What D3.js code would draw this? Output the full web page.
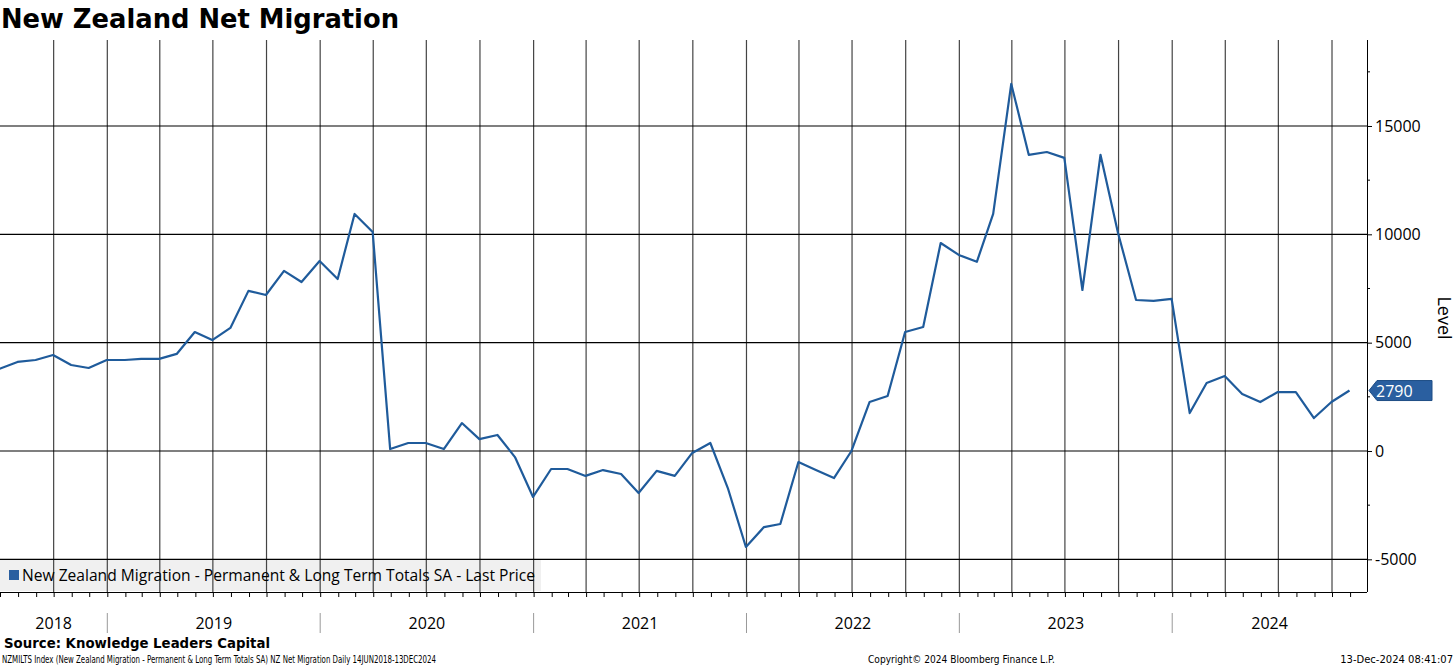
<!DOCTYPE html>
<html>
<head>
<meta charset="utf-8">
<script src="https://cdn.jsdelivr.net/npm/d3@7"></script>
<style>
  body { margin: 0; background: #fff; }
  svg { display: block; font-family: "Open Sans", "DejaVu Sans", sans-serif; }
</style>
</head>
<body>
<div id="chart"></div>
<script>
const WIDTH = 1456;
const HEIGHT = 666;
const PLOT_LEFT = 0;
const PLOT_RIGHT = 1367;
const PLOT_TOP = 40;
const PLOT_BOTTOM = 592;
const LINE_COLOR = "#1f5b9b";

// monthly, June 2018 .. October 2024
const START_YEAR = 2018;
const START_MONTH = 5; // June (0-based)
const values = [
  3790, 4110, 4200, 4430, 3970, 3830, 4200, 4200, 4250, 4250, 4480, 5490,
  5120, 5680, 7390, 7200, 8310, 7800, 8770, 7940, 10940, 10110, 90, 370,
  370, 90, 1290, 550, 740, -280, -2120, -830, -830, -1150, -880, -1060,
  -1940, -920, -1150, -90, 370, -1710, -4430, -3510, -3370, -510, -880, -1250,
  0, 2260, 2540, 5490, 5720, 9600, 9050, 8730, 10940, 16940, 13670, 13800,
  13530, 7430, 13670, 10070, 6970, 6930, 7020, 1750, 3140, 3460, 2630, 2260,
  2720, 2720, 1520, 2260, 2790
];
const yTicks = [-5000, 0, 5000, 10000, 15000];
const yMinorTicks = [-2500, 2500, 7500, 12500, 17500];
const yearLabels = ["2018", "2019", "2020", "2021", "2022", "2023", "2024"];

const TITLE = "New Zealand Net Migration";
const LEGEND_LABEL = "New Zealand Migration - Permanent & Long Term Totals SA - Last Price";
const SOURCE = "Source: Knowledge Leaders Capital";
const FOOT_LEFT = "NZMILTS Index (New Zealand Migration - Permanent & Long Term Totals SA) NZ Net Migration  Daily 14JUN2018-13DEC2024";
const FOOT_MID = "Copyright\u00a9 2024 Bloomberg Finance L.P.";
const FOOT_RIGHT = "13-Dec-2024 08:41:07";

const data = values.map((v, k) => ({
  date: new Date(Date.UTC(START_YEAR, START_MONTH + k + 1, 0)),
  value: v
}));

const x = d3.scaleUtc()
  .domain([new Date(Date.UTC(2018, 6, 1)), new Date(Date.UTC(2024, 10, 30))])
  .range([PLOT_LEFT, PLOT_RIGHT]);
const y = d3.scaleLinear()
  .domain([-6508, 18969])
  .range([PLOT_BOTTOM, PLOT_TOP]);

const svg = d3.select("#chart").append("svg")
  .attr("width", WIDTH)
  .attr("height", HEIGHT);

// title
svg.append("text")
  .attr("x", 1).attr("y", 28)
  .style("font-family", "'DejaVu Sans', sans-serif")
  .style("font-weight", "bold")
  .style("font-size", "27px")
  .attr("textLength", 398)
  .attr("lengthAdjust", "spacingAndGlyphs")
  .attr("fill", "#000")
  .text(TITLE);

// legend background (under grid)
svg.append("rect")
  .attr("x", 0).attr("y", 560)
  .attr("width", 541).attr("height", 31)
  .attr("fill", "#f0f0f0");

// vertical quarterly grid
const quarters = d3.utcMonth.every(3).range(x.domain()[0], x.domain()[1])
  .filter(d => x(d) > 2);
svg.append("g")
  .selectAll("line")
  .data(quarters)
  .join("line")
  .attr("x1", d => x(d)).attr("x2", d => x(d))
  .attr("y1", PLOT_TOP).attr("y2", PLOT_BOTTOM)
  .attr("stroke", "#444")
  .attr("stroke-width", 1.2);

// horizontal grid
svg.append("g")
  .selectAll("line")
  .data(yTicks)
  .join("line")
  .attr("x1", PLOT_LEFT).attr("x2", PLOT_RIGHT)
  .attr("y1", d => y(d)).attr("y2", d => y(d))
  .attr("stroke", "#000")
  .attr("stroke-width", 1.2);

// right axis
const yAxis = d3.axisRight(y)
  .tickValues(yTicks)
  .tickSize(5)
  .tickPadding(3)
  .tickFormat(d3.format("d"));
const yAxisG = svg.append("g")
  .attr("transform", `translate(${PLOT_RIGHT},0)`)
  .call(yAxis);
yAxisG.select(".domain").attr("d", `M0.5,${PLOT_TOP}V${PLOT_BOTTOM}`).attr("stroke", "#000");
yAxisG.selectAll("text")
  .style("font-family", "'Open Sans', sans-serif")
  .style("font-size", "16px")
  .attr("fill", "#000")
  .text(d => d < 0 ? "-" + Math.abs(d) : d);
svg.append("g")
  .attr("transform", `translate(${PLOT_RIGHT},0)`)
  .selectAll("line")
  .data(yMinorTicks)
  .join("line")
  .attr("x1", 0).attr("x2", 3)
  .attr("y1", d => y(d)).attr("y2", d => y(d))
  .attr("stroke", "#000");

svg.append("text")
  .attr("transform", `translate(1438,318) rotate(90)`)
  .attr("text-anchor", "middle")
  .style("font-size", "18px")
  .attr("fill", "#000")
  .text("Level");

// bottom axis with monthly ticks
const xAxis = d3.axisBottom(x)
  .ticks(d3.utcMonth.every(1))
  .tickSize(5)
  .tickFormat("");
const xAxisG = svg.append("g")
  .attr("transform", `translate(0,${PLOT_BOTTOM})`)
  .call(xAxis);
xAxisG.select(".domain").attr("d", `M${PLOT_LEFT},0.5H${PLOT_RIGHT}`).attr("stroke", "#000");
xAxisG.selectAll(".tick line").attr("stroke", "#000");

// year separators and labels
const years = d3.utcYear.range(new Date(Date.UTC(2019, 0, 1)), new Date(Date.UTC(2025, 0, 1)));
svg.append("g")
  .selectAll("line")
  .data(years)
  .join("line")
  .attr("x1", d => x(d)).attr("x2", d => x(d))
  .attr("y1", 613).attr("y2", 633)
  .attr("stroke", "#999");

svg.append("g")
  .selectAll("text")
  .data(yearLabels)
  .join("text")
  .attr("x", d => {
    const a = Math.max(x(new Date(Date.UTC(+d, 0, 1))), PLOT_LEFT);
    const b = Math.min(x(new Date(Date.UTC(+d + 1, 0, 1))), PLOT_RIGHT);
    return (a + b) / 2;
  })
  .attr("y", 629)
  .attr("text-anchor", "middle")
  .style("font-size", "16px")
  .attr("fill", "#000")
  .text(d => d);

// series line
svg.append("clipPath").attr("id", "plot-clip")
  .append("rect")
  .attr("x", PLOT_LEFT).attr("y", PLOT_TOP)
  .attr("width", PLOT_RIGHT - PLOT_LEFT).attr("height", PLOT_BOTTOM - PLOT_TOP);

const line = d3.line()
  .x(d => x(d.date))
  .y(d => y(d.value));
svg.append("path")
  .datum(data)
  .attr("clip-path", "url(#plot-clip)")
  .attr("d", line)
  .attr("fill", "none")
  .attr("stroke", LINE_COLOR)
  .attr("stroke-width", 2.2)
  .attr("stroke-linejoin", "round");

// last value tag
const last = data[data.length - 1];
const ly = y(last.value);
svg.append("path")
  .attr("d", `M${PLOT_RIGHT + 2},${ly}L${PLOT_RIGHT + 10},${ly - 10}H1432V${ly + 10}H${PLOT_RIGHT + 10}Z`)
  .attr("fill", "#2a5fa0")
  .attr("stroke", "#1d4d85");
svg.append("text")
  .attr("x", PLOT_RIGHT + 9).attr("y", ly + 6)
  .style("font-size", "16px")
  .attr("fill", "#fff")
  .text(d3.format("d")(last.value));

// legend
svg.append("rect")
  .attr("x", 9).attr("y", 570)
  .attr("width", 10).attr("height", 10)
  .attr("fill", "#2a5fa0");
svg.append("text")
  .attr("x", 22).attr("y", 581)
  .style("font-size", "15.5px")
  .attr("textLength", 513)
  .attr("lengthAdjust", "spacingAndGlyphs")
  .attr("fill", "#000")
  .text(LEGEND_LABEL);

// footer
svg.append("text")
  .attr("x", 4).attr("y", 648)
  .style("font-family", "'DejaVu Sans', sans-serif")
  .style("font-weight", "bold")
  .style("font-size", "14px")
  .attr("textLength", 266)
  .attr("lengthAdjust", "spacingAndGlyphs")
  .attr("fill", "#000")
  .text(SOURCE);
svg.append("text")
  .attr("x", 2).attr("y", 663)
  .style("font-family", "'DejaVu Sans', sans-serif")
  .style("font-size", "10px")
  .attr("textLength", 434)
  .attr("lengthAdjust", "spacingAndGlyphs")
  .attr("fill", "#000")
  .text(FOOT_LEFT);
svg.append("text")
  .attr("x", 868).attr("y", 663)
  .style("font-family", "'DejaVu Sans', sans-serif")
  .style("font-size", "10px")
  .attr("textLength", 187)
  .attr("lengthAdjust", "spacingAndGlyphs")
  .attr("fill", "#000")
  .text(FOOT_MID);
svg.append("text")
  .attr("x", 1453).attr("y", 663)
  .attr("text-anchor", "end")
  .style("font-family", "'DejaVu Sans', sans-serif")
  .style("font-size", "10px")
  .attr("fill", "#000")
  .text(FOOT_RIGHT);
</script>
</body>
</html>
